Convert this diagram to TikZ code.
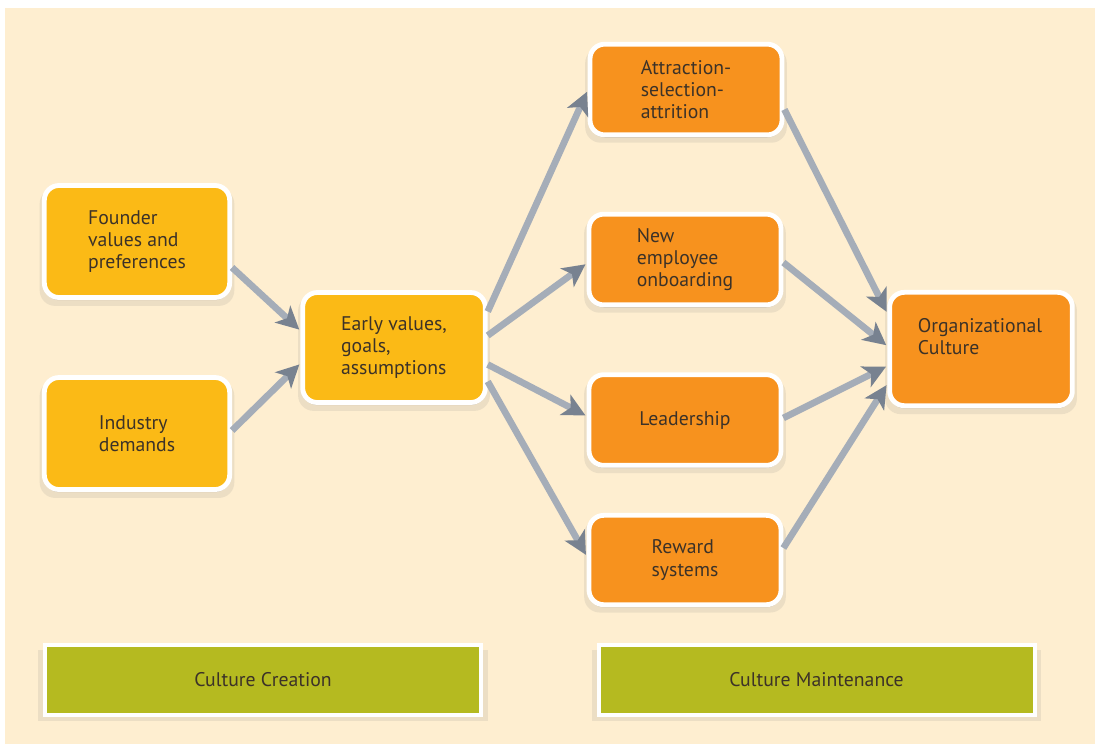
\documentclass[tikz,border=0pt]{standalone}
\usepackage{fontspec}
\setmainfont{PT Sans}
\usetikzlibrary{shadows,arrows.meta,calc}
\definecolor{cream}{RGB}{254,238,208}
\definecolor{yel}{RGB}{251,186,22}
\definecolor{org}{RGB}{247,146,30}
\definecolor{grn}{RGB}{181,186,32}
\definecolor{txt}{RGB}{60,50,40}
\definecolor{arr}{RGB}{165,173,184}
\definecolor{arrdark}{RGB}{120,130,144}
\tikzset{
  box/.style={rounded corners=11pt, draw=white, line width=3.6pt, text=txt,
    font=\fontsize{14.8}{16.8}\selectfont, align=left, inner sep=0pt,
    drop shadow={opacity=.14, shadow xshift=0pt, shadow yshift=-4pt, shadow scale=1.05},
    drop shadow={opacity=.35, shadow xshift=0pt, shadow yshift=-2pt}},
  ybox/.style={box, fill=yel, minimum width=139pt, minimum height=84pt},
  obox/.style={box, fill=org, minimum width=144pt, minimum height=68pt},
  gbox/.style={draw=white, line width=3pt, fill=grn, text=txt,
    font=\fontsize{14.8}{16.8}\selectfont, minimum width=327pt, minimum height=52pt,
    drop shadow={opacity=.14, shadow xshift=0pt, shadow yshift=-4pt, shadow scale=1.03},
    drop shadow={opacity=.35, shadow xshift=0pt, shadow yshift=-2pt}},
  conn/.style={draw=arr, line width=5pt, -{Stealth[length=17pt,width=17pt,inset=4.5pt,color=arrdark]}, shorten >=1pt},
}
\begin{document}
\begin{tikzpicture}[x=0.75pt,y=-0.75pt]
\useasboundingbox (0,0) rectangle (1095,744);
\fill[white] (0,0) rectangle (1095,744);
\fill[cream] (5,8) rectangle (1095,744);

\node[ybox] (found) at (137,241.5) {Founder\\values and\\preferences};
\node[ybox] (ind) at (137,433.5) {Industry\\demands};
\node[ybox, minimum width=137pt, minimum height=82.5pt] (early) at (394,347.5) {Early values,\\goals,\\assumptions};

\node[obox] (attr) at (686,89.5) {Attraction-\\selection-\\attrition};
\node[obox] (new) at (685,259.5) {New\\employee\\onboarding};
\node[obox] (lead) at (685,420) {Leadership};
\node[obox, minimum height=67pt] (rew) at (685,560) {Reward\\systems};

\node[box, fill=org, minimum width=137pt, minimum height=85pt] (oc) at (981,349) {};
\node[text=txt, font=\fontsize{14.8}{16.8}\selectfont, align=left, inner sep=0pt] (oct) at (980,336.5) {Organizational\\Culture};

\node[gbox] (cc) at (263,680) {Culture Creation};
\node[gbox] (cm) at (816.5,680) {Culture Maintenance};

\draw[conn] ($(found.east)+(0,26)$) -- ($(early.west)+(0,-17)$);
\draw[conn] ($(ind.east)+(0,-3)$) -- ($(early.west)+(0,16)$);
\draw[conn] ($(early.east)+(0,-36)$) -- ($(attr.west)+(0,1)$);
\draw[conn] ($(early.east)+(0,-12)$) -- ($(new.west)+(0,4)$);
\draw[conn] ($(early.east)+(0,17)$) -- ($(lead.west)+(0,-4)$);
\draw[conn] ($(early.east)+(0,34)$) -- ($(rew.west)+(0,-4)$);
\draw[conn] ($(attr.east)+(0,20)$) -- ($(oc.west)+(0,-36)$);
\draw[conn] ($(new.east)+(0,3)$) -- ($(oc.west)+(0,-3)$);
\draw[conn] ($(lead.east)+(0,-2)$) -- ($(oc.west)+(0,17)$);
\draw[conn] ($(rew.east)+(0,-12)$) -- ($(oc.west)+(0,35)$);
\end{tikzpicture}
\end{document}
